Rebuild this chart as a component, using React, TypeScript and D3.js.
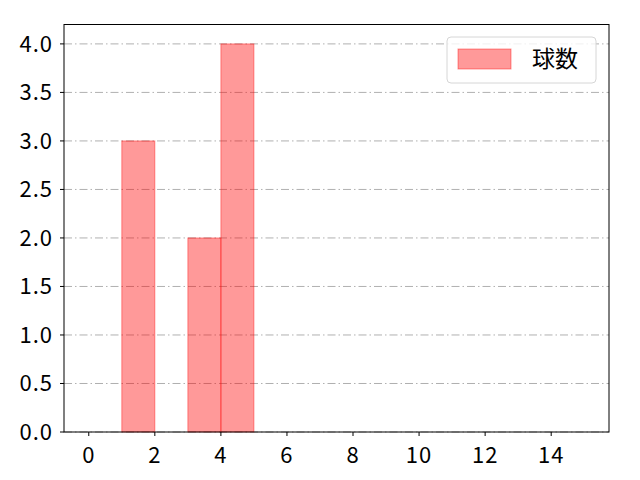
import { useMemo } from "react";
import * as d3 from "d3";

const binStarts = [1, 3, 4];
const binEnds = [2, 4, 5];
const counts = [3, 2, 4];
const xTicks = [0, 2, 4, 6, 8, 10, 12, 14];
const yTicks = [0, 0.5, 1.0, 1.5, 2.0, 2.5, 3.0, 3.5, 4.0];
const legendLabel = "球数";

const WIDTH = 640;
const HEIGHT = 480;
const MARGIN = { top: 24.5, right: 31, bottom: 48, left: 64 };
const FONT = "'Noto Sans CJK JP', 'DejaVu Sans', sans-serif";

export default function App() {
  const boundsWidth = WIDTH - MARGIN.left - MARGIN.right;
  const boundsHeight = HEIGHT - MARGIN.top - MARGIN.bottom;

  const xScale = useMemo(
    () => d3.scaleLinear().domain([-0.75, 15.75]).range([0, boundsWidth]),
    [boundsWidth]
  );
  const yScale = useMemo(
    () => d3.scaleLinear().domain([0, 4.2]).range([boundsHeight, 0]),
    [boundsHeight]
  );

  const grid = yTicks.map((t) => (
    <line
      key={t}
      x1={0}
      x2={boundsWidth}
      y1={yScale(t)}
      y2={yScale(t)}
      stroke="#b0b0b0"
      strokeWidth={1}
      strokeDasharray="8 3 1.5 3"
    />
  ));

  const bars = counts.map((c, i) => (
    <rect
      key={i}
      x={xScale(binStarts[i])}
      y={yScale(c)}
      width={xScale(binEnds[i]) - xScale(binStarts[i])}
      height={yScale(0) - yScale(c)}
      fill="#ff0000"
      fillOpacity={0.4}
      stroke="#ff0000"
      strokeOpacity={0.4}
      strokeWidth={1}
    />
  ));

  return (
    <svg
      width={WIDTH}
      height={HEIGHT}
      style={{ display: "block", margin: "-8px" }}
      fontFamily={FONT}
    >
      <rect width={WIDTH} height={HEIGHT} fill="white" />
      <g transform={`translate(${MARGIN.left},${MARGIN.top})`}>
        {grid}
        {bars}
        <rect
          x={0}
          y={0}
          width={boundsWidth}
          height={boundsHeight}
          fill="none"
          stroke="black"
          strokeWidth={1}
        />
        {xTicks.map((t) => (
          <g key={t} transform={`translate(${xScale(t)},${boundsHeight})`}>
            <line y1={0} y2={4} stroke="black" />
            <text
              y={30.5}
              textAnchor="middle"
              fontSize={22}
              letterSpacing={1}
              fill="black"
            >
              {t}
            </text>
          </g>
        ))}
        {yTicks.map((t) => (
          <g key={t} transform={`translate(0,${yScale(t)})`}>
            <line x1={-4} x2={0} stroke="black" />
            <text
              x={-11}
              dy="0.36em"
              textAnchor="end"
              fontSize={22}
              letterSpacing={1}
              fill="black"
            >
              {t.toFixed(1)}
            </text>
          </g>
        ))}
        <g transform={`translate(${447 - MARGIN.left},${37 - MARGIN.top})`}>
          <rect
            width={149}
            height={46}
            rx={4}
            fill="white"
            fillOpacity={0.8}
            stroke="#d6d6d6"
          />
          <rect
            x={11}
            y={12}
            width={53}
            height={20}
            fill="#ff0000"
            fillOpacity={0.4}
            stroke="#ff0000"
            strokeOpacity={0.4}
          />
          <text x={85} y={21.5} dy="0.35em" fontSize={23} fill="black">
            {legendLabel}
          </text>
        </g>
      </g>
    </svg>
  );
}
